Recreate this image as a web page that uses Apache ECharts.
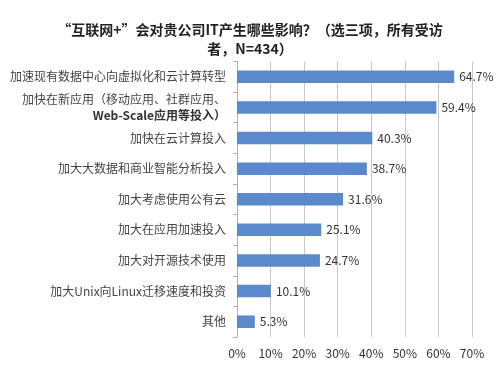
<!DOCTYPE html>
<html><head><meta charset="utf-8">
<script src="https://cdn.jsdelivr.net/npm/echarts@6/dist/echarts.min.js"></script>
<style>html,body{margin:0;padding:0;background:#fff}#c{width:500px;height:370px}</style>
</head><body><div id="c"></div>
<script>
var categories = [
  '加速现有数据中心向虚拟化和云计算转型',
  '加快在新应用（移动应用、社群应用、\n{b|Web-Scale应用等投入）}',
  '加快在云计算投入',
  '加大大数据和商业智能分析投入',
  '加大考虑使用公有云',
  '加大在应用加速投入',
  '加大对开源技术使用',
  '加大Unix向Linux迁移速度和投资',
  '其他'
];
var values = [64.7, 59.4, 40.3, 38.7, 31.6, 25.1, 24.7, 10.1, 5.3];
var xTicks = [0, 10, 20, 30, 40, 50, 60, 70];
var titleText = '“互联网+”会对贵公司IT产生哪些影响？（选三项，所有受访\n者，N=434）';

var font = '"Noto Sans CJK SC", "Noto Sans", sans-serif';
var chart = echarts.init(document.getElementById('c'));
chart.setOption({
  animation: false,
  title: {
    text: titleText,
    left: 'center',
    top: 15,
    textStyle: { fontFamily: font, fontSize: 14, fontWeight: 'bold', color: '#222', lineHeight: 19 }
  },
  grid: { left: 237, right: 28, top: 61.5, bottom: 33, containLabel: false },
  xAxis: {
    type: 'value',
    min: xTicks[0], max: xTicks[xTicks.length - 1], interval: 10,
    axisLine: { show: false },
    axisTick: { show: false },
    splitLine: { lineStyle: { color: '#c8c8c8', width: 1 } },
    axisLabel: { formatter: '{value}%', fontFamily: font, fontSize: 12, color: '#333', margin: 10 }
  },
  yAxis: {
    type: 'category',
    inverse: true,
    data: categories,
    axisLine: { lineStyle: { color: '#b0b0b0' } },
    axisTick: { show: true, length: 4, lineStyle: { color: '#b0b0b0' } },
    axisLabel: {
      fontFamily: font, fontSize: 12, color: '#444', margin: 11, lineHeight: 16,
      rich: { b: { fontFamily: font, fontSize: 12, fontWeight: 'bold', color: '#333', lineHeight: 16 } }
    }
  },
  series: [{
    type: 'bar',
    data: values,
    barWidth: 12.5,
    itemStyle: { color: '#5A8ACB' },
    label: {
      show: true, position: 'right', distance: 5,
      formatter: function (p) { return p.value.toFixed(1) + '%'; },
      fontFamily: font, fontSize: 12, color: '#333'
    }
  }]
});
</script>
</body></html>
